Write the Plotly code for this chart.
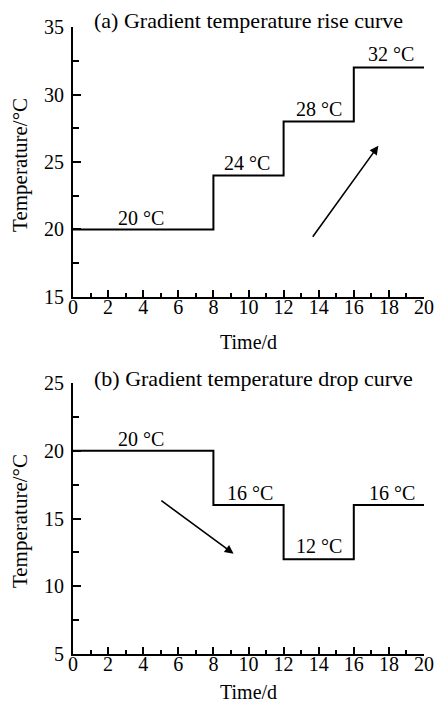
import plotly.graph_objects as go

# Data
days = [0, 8, 12, 16, 20]
rise_temp = [20, 24, 28, 32, 32]
drop_temp = [20, 16, 12, 16, 16]

rise_labels = ["20 °C", "24 °C", "28 °C", "32 °C"]
rise_label_x = [3.9, 9.9, 14.0, 18.1]
rise_label_y = [20.85, 24.9, 28.9, 33.0]

drop_labels = ["20 °C", "16 °C", "12 °C", "16 °C"]
drop_label_x = [3.9, 10.1, 14.0, 18.2]
drop_label_y = [20.85, 16.9, 13.0, 16.9]

rise_arrow = dict(x0=13.6, y0=19.35, x1=17.4, y1=26.2)
drop_arrow = dict(x0=4.95, y0=16.4, x1=9.15, y1=12.4)

FONT = "Liberation Serif, Times New Roman, serif"
FS = 20

fig = go.Figure()
fig.add_trace(go.Scatter(x=days, y=rise_temp, mode="lines", line=dict(shape="hv", color="black", width=2),
                         xaxis="x", yaxis="y", showlegend=False))
fig.add_trace(go.Scatter(x=days, y=drop_temp, mode="lines", line=dict(shape="hv", color="black", width=2),
                         xaxis="x2", yaxis="y2", showlegend=False))

ann = []
for t, x, y in zip(rise_labels, rise_label_x, rise_label_y):
    ann.append(dict(text=t, x=x, y=y, xref="x", yref="y", showarrow=False, yanchor="middle",
                    font=dict(family=FONT, size=FS, color="black")))
for t, x, y in zip(drop_labels, drop_label_x, drop_label_y):
    ann.append(dict(text=t, x=x, y=y, xref="x2", yref="y2", showarrow=False, yanchor="middle",
                    font=dict(family=FONT, size=FS, color="black")))

ann.append(dict(x=rise_arrow["x1"], y=rise_arrow["y1"], ax=rise_arrow["x0"], ay=rise_arrow["y0"],
                xref="x", yref="y", axref="x", ayref="y", showarrow=True, arrowhead=2,
                arrowsize=1.1, arrowwidth=1.6, arrowcolor="black", text=""))
ann.append(dict(x=drop_arrow["x1"], y=drop_arrow["y1"], ax=drop_arrow["x0"], ay=drop_arrow["y0"],
                xref="x2", yref="y2", axref="x2", ayref="y2", showarrow=True, arrowhead=2,
                arrowsize=1.1, arrowwidth=1.6, arrowcolor="black", text=""))

# Panel titles
ann.append(dict(text="(a) Gradient temperature rise curve", x=0.054, y=1.0096, xref="paper", yref="paper",
                xanchor="left", yanchor="middle", showarrow=False, font=dict(family=FONT, size=22, color="black")))
ann.append(dict(text="(b) Gradient temperature drop curve", x=0.054, y=0.440, xref="paper", yref="paper",
                xanchor="left", yanchor="middle", showarrow=False, font=dict(family=FONT, size=22, color="black")))

# Axis titles
for yy in [0.4976, -0.0606]:
    ann.append(dict(text="Time/d", x=0.4986, y=yy, xref="paper", yref="paper", xanchor="center",
                    yanchor="middle", showarrow=False, font=dict(family=FONT, size=FS, color="black")))
for yy in [0.780, 0.212]:
    ann.append(dict(text="Temperature/°C", x=-0.151, y=yy, xref="paper", yref="paper", xanchor="center",
                    yanchor="middle", textangle=-90, showarrow=False,
                    font=dict(family=FONT, size=21, color="black")))

xcommon = dict(range=[0, 20], dtick=2, tick0=0, showline=True, linecolor="black", linewidth=2,
               ticks="inside", ticklen=7, tickwidth=2, tickcolor="black", showgrid=False, zeroline=False,
               automargin=False, ticklabelstandoff=-9, ticklabeloverflow="allow",
               minor=dict(dtick=1, ticks="inside", ticklen=4, tickwidth=2, tickcolor="black", showgrid=False),
               tickfont=dict(family=FONT, size=FS, color="black"))
ycommon = dict(dtick=5, showline=True, linecolor="black", linewidth=2,
               ticks="inside", ticklen=8, tickwidth=2, tickcolor="black", showgrid=False, zeroline=False,
               automargin=False, ticklabelstandoff=3, ticklabeloverflow="allow",
               minor=dict(dtick=2.5, ticks="inside", ticklen=6, tickwidth=2, tickcolor="black", showgrid=False),
               tickfont=dict(family=FONT, size=FS, color="black"))

fig.update_layout(
    width=435, height=704,
    margin=dict(l=73, r=11, t=27, b=50),
    paper_bgcolor="white", plot_bgcolor="white",
    xaxis=dict(**xcommon, anchor="y", domain=[0, 1]),
    yaxis=dict(**ycommon, range=[15, 35], tick0=15, anchor="x", domain=[0.5694, 1]),
    xaxis2=dict(**xcommon, anchor="y2", domain=[0, 1]),
    yaxis2=dict(**ycommon, range=[5, 25], tick0=5, anchor="x2", domain=[0, 0.4322]),
    annotations=ann,
)

fig.write_html("out.html", config={"displayModeBar": False},
               post_script="document.body.style.margin='0';document.body.style.overflow='hidden';")
